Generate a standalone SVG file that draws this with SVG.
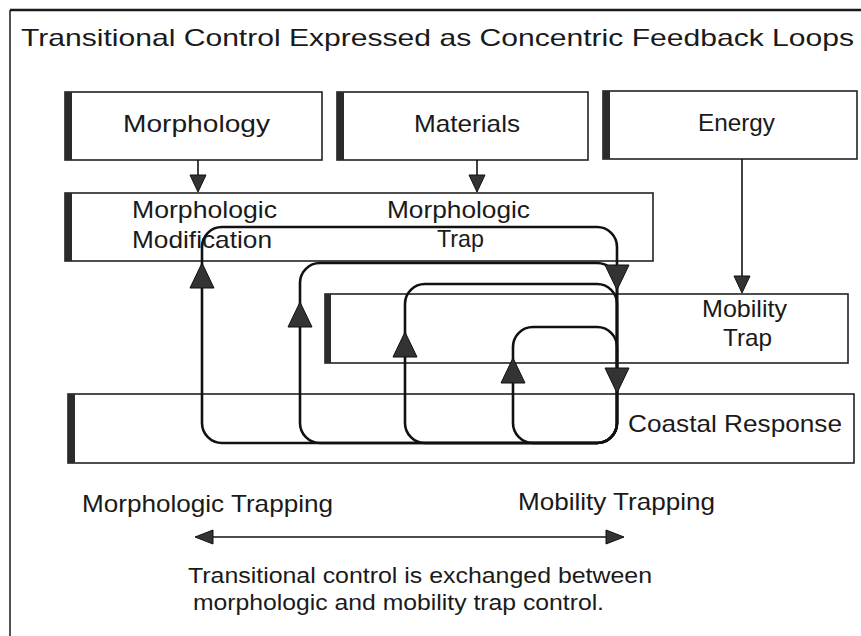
<svg xmlns="http://www.w3.org/2000/svg" xmlns:xlink="http://www.w3.org/1999/xlink" width="861" height="636" viewBox="0 0 861 636">
  <style>
    .frame { fill: none; stroke: #1a1a1a; }
    .box { fill: #ffffff; stroke: #222222; stroke-width: 1.6; }
    .bar { fill: #2b2b2b; }
    .lbl { font-family: "Liberation Sans", Arial, Helvetica, sans-serif; font-size: 24px; fill: #1a1a1a; }
    .title { font-size: 24px; }
    .note { font-size: 22px; }
    .loop { fill: none; stroke: #111111; stroke-width: 2.6; }
    .wire { fill: none; stroke: #111111; stroke-width: 1.6; }
    .head { fill: #333333; stroke: #111111; stroke-width: 1; stroke-linejoin: miter; }
  </style>
  <defs>
    <!-- arrowheads pointing down, tip at the origin -->
    <path id="headLg" class="head" d="M0 0 L-12 -25 L12 -25 Z"/>
    <path id="headSm" class="head" d="M0 0 L-8 -17 L8 -17 Z"/>
    <path id="headH" class="head" d="M0 0 L-18 -7 L-18 7 Z"/>
  </defs>

  <!-- outer frame: top rule and left rule -->
  <path class="frame" d="M10 10 H861" stroke-width="2.6"/>
  <path class="frame" d="M10 10 V636" stroke-width="1.5"/>

  <text class="lbl title" x="21" y="46" textLength="833" lengthAdjust="spacingAndGlyphs">Transitional Control Expressed as Concentric Feedback Loops</text>

  <!-- input boxes -->
  <g id="morphology">
    <rect class="box" x="65" y="92" width="257" height="68"/>
    <rect class="bar" x="65" y="92" width="7" height="68"/>
    <text class="lbl" x="123" y="132" textLength="147" lengthAdjust="spacingAndGlyphs">Morphology</text>
  </g>
  <g id="materials">
    <rect class="box" x="337" y="92" width="251" height="68"/>
    <rect class="bar" x="337" y="92" width="7" height="68"/>
    <text class="lbl" x="414" y="132" textLength="106" lengthAdjust="spacingAndGlyphs">Materials</text>
  </g>
  <g id="energy">
    <rect class="box" x="603" y="91" width="254" height="68"/>
    <rect class="bar" x="603" y="91" width="7" height="68"/>
    <text class="lbl" x="698" y="131" textLength="77" lengthAdjust="spacingAndGlyphs">Energy</text>
  </g>

  <!-- process boxes -->
  <g id="morphologic-modification-trap">
    <rect class="box" x="65" y="193" width="588" height="68"/>
    <rect class="bar" x="65" y="193" width="7" height="68"/>
    <text class="lbl" x="132" y="218" textLength="145" lengthAdjust="spacingAndGlyphs">Morphologic</text>
    <text class="lbl" x="132" y="248" textLength="140" lengthAdjust="spacingAndGlyphs">Modification</text>
    <text class="lbl" x="387" y="218" textLength="143" lengthAdjust="spacingAndGlyphs">Morphologic</text>
    <text class="lbl" x="437" y="247" textLength="47" lengthAdjust="spacingAndGlyphs">Trap</text>
  </g>
  <g id="mobility-trap">
    <rect class="box" x="325" y="294" width="523" height="69"/>
    <rect class="bar" x="325" y="294" width="6" height="69"/>
    <text class="lbl" x="702" y="317" textLength="85" lengthAdjust="spacingAndGlyphs">Mobility</text>
    <text class="lbl" x="723" y="346" textLength="49" lengthAdjust="spacingAndGlyphs">Trap</text>
  </g>
  <g id="coastal-response">
    <rect class="box" x="68" y="394" width="786" height="69"/>
    <rect class="bar" x="68" y="394" width="7" height="69"/>
    <text class="lbl" x="628" y="432" textLength="214" lengthAdjust="spacingAndGlyphs">Coastal Response</text>
  </g>

  <!-- connectors -->
  <g id="connectors">
    <!-- inputs feeding the traps -->
    <path class="wire" d="M198 160 V178"/>
    <use xlink:href="#headSm" href="#headSm" transform="translate(198,192)"/>
    <path class="wire" d="M477 160 V178"/>
    <use xlink:href="#headSm" href="#headSm" transform="translate(477,192)"/>
    <path class="wire" d="M742 159 V279"/>
    <use xlink:href="#headSm" href="#headSm" transform="translate(742,293)"/>

    <!-- concentric feedback loops sharing the right side and the base -->
    <rect class="loop" x="202" y="227" width="415" height="216" rx="20" ry="20"/>
    <rect class="loop" x="300" y="263" width="317" height="180" rx="20" ry="20"/>
    <rect class="loop" x="405" y="284" width="212" height="159" rx="20" ry="20"/>
    <rect class="loop" x="513" y="327" width="104" height="116" rx="20" ry="20"/>

    <!-- upward heads on the loop returns -->
    <use xlink:href="#headLg" href="#headLg" transform="translate(202,263) rotate(180)"/>
    <use xlink:href="#headLg" href="#headLg" transform="translate(300,302) rotate(180)"/>
    <use xlink:href="#headLg" href="#headLg" transform="translate(405,332) rotate(180)"/>
    <use xlink:href="#headLg" href="#headLg" transform="translate(513,358) rotate(180)"/>
    <!-- downward heads on the shared side -->
    <use xlink:href="#headLg" href="#headLg" transform="translate(617,290)"/>
    <use xlink:href="#headLg" href="#headLg" transform="translate(617,393)"/>

    <!-- exchange of control between the two trapping modes -->
    <path class="wire" d="M210 537 H608"/>
    <use xlink:href="#headH" href="#headH" transform="translate(195,537) rotate(180)"/>
    <use xlink:href="#headH" href="#headH" transform="translate(624,537)"/>
  </g>

  <text class="lbl" x="82" y="512" textLength="251" lengthAdjust="spacingAndGlyphs">Morphologic Trapping</text>
  <text class="lbl" x="518" y="510" textLength="197" lengthAdjust="spacingAndGlyphs">Mobility Trapping</text>
  <text class="lbl note" x="188" y="583" textLength="464" lengthAdjust="spacingAndGlyphs">Transitional control is exchanged between</text>
  <text class="lbl note" x="193" y="610" textLength="411" lengthAdjust="spacingAndGlyphs">morphologic and mobility trap control.</text>
</svg>
